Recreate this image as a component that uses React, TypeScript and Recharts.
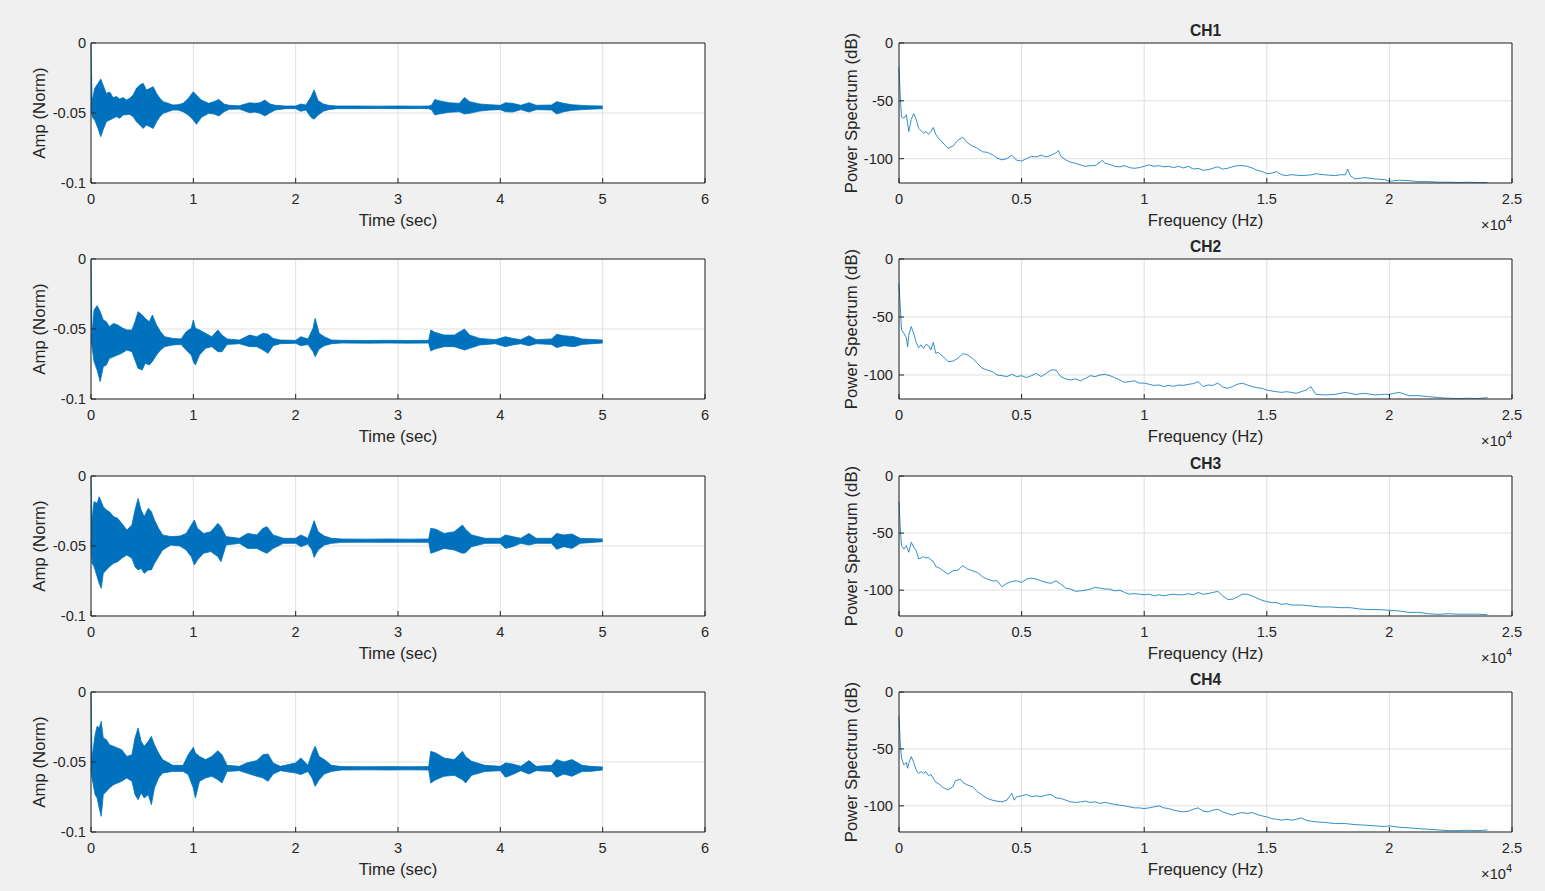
import React from 'react';
import { ComposedChart, LineChart, Line, Area, XAxis, YAxis, CartesianGrid, Label } from 'recharts';

// ---- waveform envelopes: time (s), lower / upper amplitude (normalized) ----
const ch1Time = [
  0, 0.01, 0.02, 0.036, 0.069, 0.095, 0.118, 0.150, 0.183, 0.216,
  0.248, 0.281, 0.314, 0.346, 0.379, 0.412, 0.444, 0.477, 0.510, 0.542,
  0.575, 0.608, 0.641, 0.673, 0.706, 0.755, 0.80, 0.85, 0.90, 0.95,
  1.00, 1.03, 1.08, 1.15, 1.20, 1.25, 1.30, 1.35, 1.45, 1.55,
  1.60, 1.65, 1.70, 1.75, 1.80, 1.90, 2.00, 2.05, 2.10, 2.15,
  2.18, 2.22, 2.27, 2.32, 2.40, 2.60, 2.80, 3.00, 3.20, 3.30,
  3.33, 3.36, 3.40, 3.50, 3.60, 3.65, 3.70, 3.80, 3.90, 4.00,
  4.05, 4.12, 4.20, 4.28, 4.35, 4.50, 4.55, 4.62, 4.70, 4.85,
  5.00,
];
const ch1Hi = [
  0, -0.0400, -0.0384, -0.0324, -0.0288, -0.0257, -0.0300, -0.0360, -0.0350, -0.0390,
  -0.0383, -0.0400, -0.0390, -0.0407, -0.0395, -0.0371, -0.0324, -0.0300, -0.0288, -0.0336,
  -0.0324, -0.0312, -0.0360, -0.0395, -0.0419, -0.0431, -0.0443, -0.0441, -0.0431, -0.0396,
  -0.0348, -0.0372, -0.0408, -0.0431, -0.0419, -0.0403, -0.0436, -0.0445, -0.0448, -0.0427,
  -0.0431, -0.0427, -0.0408, -0.0436, -0.0445, -0.0450, -0.0450, -0.0436, -0.0443, -0.0384,
  -0.0336, -0.0412, -0.0436, -0.0445, -0.0450, -0.0450, -0.0451, -0.0450, -0.0451, -0.0450,
  -0.0443, -0.0403, -0.0412, -0.0427, -0.0431, -0.0389, -0.0419, -0.0436, -0.0441, -0.0445,
  -0.0427, -0.0431, -0.0445, -0.0427, -0.0445, -0.0443, -0.0419, -0.0431, -0.0441, -0.0448,
  -0.0450,
];
const ch1Lo = [
  -0.0470, -0.0520, -0.0538, -0.0550, -0.0610, -0.0669, -0.0621, -0.0562, -0.0550, -0.0538,
  -0.0526, -0.0538, -0.0514, -0.0512, -0.0510, -0.0526, -0.0562, -0.0586, -0.0610, -0.0586,
  -0.0598, -0.0610, -0.0562, -0.0526, -0.0502, -0.0490, -0.0479, -0.0479, -0.0491, -0.0514,
  -0.0550, -0.0581, -0.0531, -0.0502, -0.0507, -0.0521, -0.0491, -0.0474, -0.0472, -0.0498,
  -0.0493, -0.0502, -0.0521, -0.0498, -0.0479, -0.0469, -0.0469, -0.0488, -0.0479, -0.0531,
  -0.0545, -0.0514, -0.0488, -0.0476, -0.0469, -0.0469, -0.0468, -0.0469, -0.0468, -0.0469,
  -0.0479, -0.0514, -0.0507, -0.0495, -0.0491, -0.0507, -0.0502, -0.0486, -0.0479, -0.0476,
  -0.0491, -0.0493, -0.0476, -0.0493, -0.0476, -0.0479, -0.0507, -0.0491, -0.0481, -0.0474,
  -0.0469,
];

const ch2Time = [
  0, 0.01, 0.03, 0.06, 0.09, 0.12, 0.15, 0.18, 0.22, 0.26,
  0.30, 0.35, 0.40, 0.43, 0.46, 0.50, 0.53, 0.57, 0.60, 0.64,
  0.68, 0.72, 0.80, 0.88, 0.93, 0.98, 1.00, 1.02, 1.06, 1.12,
  1.18, 1.24, 1.28, 1.33, 1.45, 1.55, 1.62, 1.68, 1.73, 1.78,
  1.85, 2.00, 2.05, 2.12, 2.17, 2.19, 2.23, 2.28, 2.35, 2.45,
  2.70, 2.90, 3.10, 3.30, 3.32, 3.36, 3.45, 3.55, 3.65, 3.70,
  3.80, 3.95, 4.05, 4.12, 4.20, 4.28, 4.35, 4.50, 4.55, 4.62,
  4.72, 4.80, 5.00,
];
const ch2Hi = [
  0, -0.0543, -0.0364, -0.0333, -0.0376, -0.0436, -0.0448, -0.0483, -0.0460, -0.0471,
  -0.0490, -0.0507, -0.0507, -0.0448, -0.0376, -0.0400, -0.0424, -0.0448, -0.0400, -0.0471,
  -0.0519, -0.0555, -0.0567, -0.0571, -0.0519, -0.0495, -0.0436, -0.0495, -0.0507, -0.0531,
  -0.0555, -0.0507, -0.0543, -0.0571, -0.0579, -0.0543, -0.0555, -0.0531, -0.0538, -0.0567,
  -0.0579, -0.0581, -0.0555, -0.0571, -0.0495, -0.0424, -0.0531, -0.0555, -0.0579, -0.0581,
  -0.0582, -0.0581, -0.0582, -0.0581, -0.0507, -0.0524, -0.0543, -0.0543, -0.0500, -0.0543,
  -0.0567, -0.0576, -0.0555, -0.0567, -0.0576, -0.0548, -0.0576, -0.0571, -0.0538, -0.0548,
  -0.0555, -0.0571, -0.0579,
];
const ch2Lo = [
  -0.0590, -0.0626, -0.0733, -0.0793, -0.0876, -0.0769, -0.0757, -0.0710, -0.0698, -0.0686,
  -0.0674, -0.0650, -0.0662, -0.0721, -0.0781, -0.0793, -0.0745, -0.0757, -0.0733, -0.0686,
  -0.0650, -0.0626, -0.0614, -0.0610, -0.0650, -0.0686, -0.0733, -0.0757, -0.0686, -0.0638,
  -0.0626, -0.0662, -0.0662, -0.0610, -0.0605, -0.0626, -0.0626, -0.0650, -0.0674, -0.0619,
  -0.0605, -0.0602, -0.0619, -0.0610, -0.0662, -0.0698, -0.0643, -0.0619, -0.0605, -0.0600,
  -0.0601, -0.0600, -0.0601, -0.0600, -0.0657, -0.0643, -0.0626, -0.0626, -0.0650, -0.0638,
  -0.0614, -0.0605, -0.0626, -0.0614, -0.0605, -0.0619, -0.0605, -0.0610, -0.0633, -0.0619,
  -0.0626, -0.0610, -0.0600,
];

const ch3Time = [
  0, 0.01, 0.03, 0.06, 0.08, 0.10, 0.12, 0.15, 0.18, 0.22,
  0.26, 0.30, 0.35, 0.40, 0.43, 0.46, 0.49, 0.52, 0.56, 0.59,
  0.62, 0.66, 0.70, 0.78, 0.87, 0.93, 0.98, 1.01, 1.04, 1.10,
  1.17, 1.24, 1.27, 1.32, 1.45, 1.53, 1.62, 1.68, 1.72, 1.78,
  1.88, 2.00, 2.05, 2.12, 2.16, 2.18, 2.22, 2.28, 2.35, 2.45,
  2.70, 2.90, 3.10, 3.30, 3.32, 3.37, 3.45, 3.55, 3.63, 3.66,
  3.72, 3.85, 4.00, 4.05, 4.12, 4.20, 4.28, 4.35, 4.50, 4.55,
  4.62, 4.70, 4.78, 5.00,
];
const ch3Hi = [
  0, -0.0314, -0.0183, -0.0195, -0.0148, -0.0183, -0.0219, -0.0243, -0.0255, -0.0290,
  -0.0302, -0.0338, -0.0386, -0.0350, -0.0243, -0.0160, -0.0243, -0.0290, -0.0231, -0.0255,
  -0.0314, -0.0374, -0.0421, -0.0433, -0.0429, -0.0410, -0.0350, -0.0314, -0.0374, -0.0410,
  -0.0398, -0.0338, -0.0362, -0.0433, -0.0445, -0.0410, -0.0421, -0.0374, -0.0362, -0.0421,
  -0.0445, -0.0445, -0.0421, -0.0445, -0.0362, -0.0319, -0.0398, -0.0429, -0.0445, -0.0450,
  -0.0451, -0.0450, -0.0451, -0.0450, -0.0374, -0.0380, -0.0410, -0.0398, -0.0350, -0.0380,
  -0.0421, -0.0445, -0.0445, -0.0421, -0.0433, -0.0445, -0.0410, -0.0445, -0.0445, -0.0410,
  -0.0421, -0.0414, -0.0445, -0.0450,
];
const ch3Lo = [
  -0.0470, -0.0624, -0.0648, -0.0719, -0.0767, -0.0802, -0.0695, -0.0671, -0.0648, -0.0624,
  -0.0612, -0.0588, -0.0564, -0.0588, -0.0648, -0.0671, -0.0660, -0.0695, -0.0671, -0.0671,
  -0.0624, -0.0576, -0.0529, -0.0493, -0.0500, -0.0529, -0.0576, -0.0636, -0.0600, -0.0552,
  -0.0540, -0.0576, -0.0612, -0.0493, -0.0481, -0.0517, -0.0517, -0.0540, -0.0552, -0.0517,
  -0.0481, -0.0481, -0.0505, -0.0486, -0.0529, -0.0581, -0.0529, -0.0493, -0.0481, -0.0474,
  -0.0473, -0.0474, -0.0473, -0.0474, -0.0552, -0.0540, -0.0517, -0.0529, -0.0552, -0.0548,
  -0.0505, -0.0481, -0.0481, -0.0517, -0.0505, -0.0481, -0.0493, -0.0481, -0.0481, -0.0524,
  -0.0505, -0.0517, -0.0481, -0.0469,
];

const ch4Time = [
  0, 0.01, 0.04, 0.06, 0.08, 0.10, 0.12, 0.15, 0.18, 0.22,
  0.26, 0.30, 0.35, 0.40, 0.43, 0.46, 0.49, 0.52, 0.56, 0.59,
  0.62, 0.66, 0.70, 0.80, 0.90, 0.95, 1.00, 1.02, 1.06, 1.12,
  1.18, 1.24, 1.28, 1.33, 1.45, 1.52, 1.62, 1.68, 1.73, 1.78,
  1.85, 2.00, 2.05, 2.12, 2.16, 2.19, 2.23, 2.28, 2.35, 2.45,
  2.70, 2.90, 3.10, 3.30, 3.32, 3.37, 3.45, 3.55, 3.63, 3.66,
  3.72, 3.85, 4.00, 4.05, 4.12, 4.20, 4.28, 4.35, 4.50, 4.55,
  4.62, 4.70, 4.80, 4.88, 5.00,
];
const ch4Hi = [
  0, -0.0471, -0.0305, -0.0245, -0.0257, -0.0210, -0.0329, -0.0340, -0.0376, -0.0388,
  -0.0400, -0.0412, -0.0460, -0.0448, -0.0329, -0.0257, -0.0352, -0.0388, -0.0352, -0.0317,
  -0.0376, -0.0436, -0.0483, -0.0524, -0.0524, -0.0448, -0.0395, -0.0436, -0.0460, -0.0483,
  -0.0460, -0.0419, -0.0448, -0.0524, -0.0531, -0.0507, -0.0490, -0.0448, -0.0443, -0.0507,
  -0.0531, -0.0507, -0.0471, -0.0524, -0.0436, -0.0388, -0.0460, -0.0483, -0.0524, -0.0533,
  -0.0534, -0.0533, -0.0534, -0.0533, -0.0424, -0.0436, -0.0471, -0.0483, -0.0424, -0.0460,
  -0.0495, -0.0524, -0.0531, -0.0507, -0.0514, -0.0531, -0.0490, -0.0531, -0.0524, -0.0483,
  -0.0500, -0.0483, -0.0524, -0.0531, -0.0536,
];
const ch4Lo = [
  -0.0550, -0.0614, -0.0733, -0.0757, -0.0829, -0.0888, -0.0733, -0.0710, -0.0686, -0.0662,
  -0.0650, -0.0638, -0.0614, -0.0638, -0.0733, -0.0769, -0.0721, -0.0757, -0.0733, -0.0805,
  -0.0686, -0.0614, -0.0579, -0.0567, -0.0567, -0.0590, -0.0686, -0.0757, -0.0638, -0.0614,
  -0.0602, -0.0626, -0.0650, -0.0567, -0.0562, -0.0579, -0.0602, -0.0614, -0.0638, -0.0586,
  -0.0562, -0.0579, -0.0590, -0.0567, -0.0614, -0.0674, -0.0626, -0.0586, -0.0567, -0.0557,
  -0.0556, -0.0557, -0.0556, -0.0557, -0.0650, -0.0626, -0.0602, -0.0595, -0.0626, -0.0650,
  -0.0595, -0.0567, -0.0562, -0.0609, -0.0590, -0.0562, -0.0586, -0.0562, -0.0567, -0.0609,
  -0.0586, -0.0602, -0.0567, -0.0567, -0.0557,
];

// ---- power spectra: frequency (Hz), power (dB) ----
const ch1Freq = [
  0, 50, 100, 200, 300, 400, 500, 600, 700, 800,
  1000, 1100, 1200, 1300, 1400, 1500, 1600, 1800, 2000, 2200,
  2400, 2600, 2800, 3000, 3200, 3400, 3600, 3800, 4000, 4200,
  4400, 4600, 4800, 5000, 5200, 5400, 5600, 5800, 6000, 6200,
  6400, 6500, 6600, 6800, 7000, 7200, 7400, 7600, 7800, 8000,
  8200, 8300, 8400, 8600, 8800, 9000, 9200, 9400, 9600, 9800,
  10000, 10200, 10400, 10600, 10800, 11000, 11200, 11400, 11600, 11800,
  12000, 12200, 12400, 12600, 12800, 13000, 13200, 13400, 13600, 13800,
  14000, 14200, 14400, 14600, 14800, 15000, 15200, 15400, 15600, 15800,
  16000, 16400, 16800, 17000, 17400, 17800, 18000, 18200, 18300, 18400,
  18600, 19000, 19400, 19800, 20000, 20400, 20800, 21200, 21600, 22000,
  22400, 22800, 23200, 23600, 24000,
];
const ch1Pow = [
  -21, -45, -64, -65, -62, -76.5, -66, -61, -66, -73.6,
  -78, -76.5, -79, -76.5, -73, -79, -82, -86.5, -91, -89,
  -84, -81.5, -86.5, -89, -91, -94, -94.5, -96.5, -99.4, -101,
  -100, -97, -101.4, -102, -100, -98, -98.5, -97, -98.5, -97,
  -95, -93, -98, -101, -103, -104, -105.4, -106.6, -106, -106,
  -103, -101.4, -104, -105, -106.6, -107, -106, -107.7, -108.3, -107.7,
  -106.6, -105.4, -106.6, -106, -107, -106.6, -107.7, -106.6, -108, -106.6,
  -109, -108.3, -110, -109.5, -108.3, -107, -109, -108.3, -107, -106,
  -106, -106.6, -108, -110, -111, -113, -112.5, -111.2, -113.8, -114.6,
  -113.8, -114.6, -114, -113, -114, -114.6, -113.8, -114, -109, -114.6,
  -117.5, -116.3, -117.5, -118, -119.5, -118.6, -119, -119.8, -119.8, -120.3,
  -120.3, -120.6, -120.3, -120.6, -120.6,
];

const ch2Freq = [
  0, 50, 100, 200, 300, 350, 400, 500, 600, 700,
  800, 900, 1000, 1100, 1200, 1300, 1400, 1500, 1600, 1800,
  2000, 2200, 2400, 2600, 2800, 3000, 3200, 3400, 3600, 3800,
  4000, 4200, 4400, 4600, 4800, 5000, 5200, 5400, 5600, 5800,
  6000, 6200, 6400, 6600, 6800, 7000, 7200, 7400, 7600, 7800,
  8000, 8200, 8400, 8600, 8800, 9000, 9200, 9400, 9600, 9800,
  10000, 10200, 10400, 10600, 10800, 11000, 11200, 11400, 11600, 11800,
  12000, 12200, 12400, 12600, 12800, 13000, 13200, 13400, 13600, 13800,
  14000, 14200, 14400, 14600, 14800, 15000, 15200, 15400, 15600, 15800,
  16000, 16200, 16400, 16600, 16800, 17000, 17400, 17800, 18200, 18600,
  19000, 19400, 19800, 20000, 20400, 20800, 21200, 21600, 22000, 22400,
  22800, 23200, 23600, 24000,
];
const ch2Pow = [
  -21, -40, -61, -64, -68, -75.6, -65.5, -58.3, -64, -72,
  -76.4, -74, -77, -73.6, -74.7, -78.4, -72, -81.3, -80.5, -84.2,
  -88.5, -88, -85.6, -81.6, -82.8, -85.6, -90, -94.3, -95.7, -97,
  -100, -100.6, -101.4, -99.4, -101.4, -100.6, -102.3, -100.6, -98.6, -101.4,
  -98.6, -95.7, -95.7, -101.4, -103.4, -104.3, -103.4, -105, -103, -100.6,
  -101.4, -100, -99.4, -100.6, -102.3, -104.3, -106.3, -105.7, -105, -107,
  -107, -108, -109, -108.6, -110, -109, -109.8, -108.6, -109, -108,
  -107.5, -105.7, -110, -108.6, -109, -107, -110.3, -111.5, -110, -108,
  -107, -108.6, -110, -111, -111.5, -113, -113.8, -114.4, -115, -114.4,
  -115, -115.8, -114.4, -113, -110, -116.7, -117.2, -116.7, -115, -116.7,
  -115.8, -117.2, -116.7, -116.7, -115, -117.8, -117.8, -118.7, -119.5, -120,
  -120.4, -120, -120.4, -119.5,
];

const ch3Freq = [
  0, 50, 100, 200, 300, 400, 500, 600, 700, 800,
  900, 1000, 1100, 1200, 1300, 1400, 1500, 1600, 1800, 2000,
  2200, 2400, 2600, 2800, 3000, 3200, 3400, 3600, 3800, 4000,
  4200, 4400, 4600, 4800, 5000, 5200, 5400, 5600, 5800, 6000,
  6200, 6400, 6600, 6800, 7000, 7200, 7400, 7600, 7800, 8000,
  8200, 8400, 8600, 8800, 9000, 9200, 9400, 9600, 9800, 10000,
  10200, 10400, 10600, 10800, 11000, 11200, 11400, 11600, 11800, 12000,
  12200, 12400, 12600, 12800, 13000, 13200, 13400, 13600, 13800, 14000,
  14200, 14400, 14600, 14800, 15000, 15200, 15400, 15600, 15800, 16000,
  16400, 16800, 17200, 17600, 18000, 18400, 18800, 19200, 19600, 20000,
  20400, 20800, 21200, 21600, 22000, 22400, 22800, 23200, 23600, 24000,
];
const ch3Pow = [
  -22.6, -45, -61, -64, -61, -66.8, -58, -62.4, -65.3, -72.6,
  -71.8, -70.6, -71.8, -71.2, -73.5, -74.7, -79.4, -80, -83, -86,
  -83, -82.4, -78.5, -81.5, -83, -84.4, -88.2, -90.3, -91.8, -91.8,
  -97, -94, -92.4, -91.8, -93.2, -90.3, -89.4, -90.3, -91.8, -93.2,
  -94, -91.8, -94.7, -98.2, -99, -101, -100.6, -100, -99, -97.6,
  -98.2, -99, -99, -100.6, -100, -102, -103.5, -103, -103.5, -104,
  -103.5, -105, -104, -105, -104, -103.5, -104, -104, -103, -104,
  -102, -103.5, -103, -102, -101, -105, -108, -108, -106, -103.5,
  -103.5, -105, -107, -108.8, -110, -110.9, -110.9, -112.4, -111.8, -113,
  -113, -113.8, -114.7, -114.7, -115.3, -115.3, -116.5, -117, -117, -117.6,
  -118.2, -119.4, -119.4, -120.6, -121.2, -120.6, -121, -121, -121, -121.5,
];

const ch4Freq = [
  0, 50, 100, 200, 300, 350, 400, 500, 600, 700,
  800, 900, 1000, 1100, 1200, 1300, 1400, 1500, 1600, 1800,
  2000, 2200, 2300, 2500, 2600, 2800, 3000, 3200, 3400, 3600,
  3800, 4000, 4200, 4400, 4600, 4700, 4800, 5000, 5200, 5400,
  5600, 5800, 6000, 6200, 6400, 6600, 6800, 7000, 7200, 7400,
  7600, 7800, 8000, 8200, 8400, 8600, 8800, 9000, 9200, 9400,
  9600, 9800, 10000, 10200, 10400, 10600, 10800, 11000, 11200, 11400,
  11600, 11800, 12000, 12200, 12400, 12600, 12800, 13000, 13200, 13400,
  13600, 13800, 14000, 14200, 14400, 14600, 14800, 15000, 15200, 15400,
  15600, 15800, 16000, 16200, 16400, 16600, 16800, 17000, 17400, 17800,
  18200, 18600, 19000, 19400, 19800, 20000, 20400, 20800, 21200, 21600,
  22000, 22400, 22800, 23200, 23600, 24000,
];
const ch4Pow = [
  -21.5, -43.5, -58, -64, -61.8, -67, -62.6, -56.8, -61.8, -68.5,
  -71.5, -70, -71.5, -70, -73.5, -72.4, -75.9, -79.4, -80.3, -84,
  -86, -83.2, -78, -76.5, -79.4, -81.8, -83.2, -87.6, -90.6, -93.5,
  -95, -95.9, -96.5, -95, -89, -95, -92, -91.2, -90, -92,
  -91.2, -92, -90.6, -90, -93, -93.5, -95, -96.5, -97, -96.5,
  -95.9, -97, -96.5, -98, -97, -98, -98.8, -99.4, -100, -100.9,
  -101.8, -101.8, -102.4, -101.8, -100.9, -100, -101.8, -102.4, -103.8, -104.7,
  -105.3, -104.7, -103, -101.8, -104.7, -105.3, -103.8, -103, -105.3, -106.8,
  -108.2, -106.8, -105.9, -106.8, -105.9, -107.6, -108.8, -109.7, -111.2, -111.8,
  -112.6, -111.8, -112.6, -111.8, -110.6, -112.6, -113.5, -114, -114.7, -115.6,
  -115.6, -116.5, -117, -117.6, -118.2, -117.6, -118.8, -119.4, -120, -120.6,
  -121.2, -121.8, -121.8, -121.5, -121.8, -121.2,
];

// ---- axes ----
const timeTicks = [0, 1, 2, 3, 4, 5, 6];
const ampTicks = [-0.1, -0.05, 0];
const freqTicks = [0, 5000, 10000, 15000, 20000, 25000];
const powTicks = [-100, -50, 0];
const powFloor = [-121, -120.7, -122.6, -123];
const channelNames = ['CH1', 'CH2', 'CH3', 'CH4'];

const FONT = '"Liberation Sans", Arial, Helvetica, sans-serif';
const INK = '#262626';
const GRID = '#dfdfdf';
const BLUE = '#0072BD';
const ROW_TOPS = [43, 259, 476, 692];

const tickStyle = { fill: INK, fontSize: 14.6, fontFamily: FONT };
const labelStyle = { fill: INK, fontSize: 16.8, fontFamily: FONT };

const waves = [
  { time: ch1Time, lo: ch1Lo, hi: ch1Hi },
  { time: ch2Time, lo: ch2Lo, hi: ch2Hi },
  { time: ch3Time, lo: ch3Lo, hi: ch3Hi },
  { time: ch4Time, lo: ch4Lo, hi: ch4Hi },
];
const spectra = [
  { freq: ch1Freq, pow: ch1Pow },
  { freq: ch2Freq, pow: ch2Pow },
  { freq: ch3Freq, pow: ch3Pow },
  { freq: ch4Freq, pow: ch4Pow },
];

const ExpLabel = (props: any) => {
  const vb = props.viewBox;
  return (
    <text x={vb.x + vb.width} y={vb.y + 47} textAnchor="end" fill={INK} fontSize={14.6} fontFamily={FONT}>
      <tspan>×10</tspan>
      <tspan dy={-7} fontSize={11}>4</tspan>
    </text>
  );
};

function WavePanel({ time, lo, hi, top }: { time: number[]; lo: number[]; hi: number[]; top: number }) {
  const data = time.map((t, i) => ({ t, band: [lo[i], hi[i]] }));
  return (
    <div style={{ position: 'absolute', left: 0, top: top - 10 }}>
      <ComposedChart width={725} height={200} data={data} margin={{ top: 9, right: 19, bottom: 0, left: 0 }}>
        <CartesianGrid stroke={GRID} fill="#ffffff" />
        <XAxis dataKey="t" type="number" domain={[0, 6]} ticks={timeTicks} height={50}
          stroke={INK} tickSize={-5} tickMargin={16} tick={tickStyle}>
          <Label value="Time (sec)" position="insideBottom" offset={7} {...labelStyle} />
        </XAxis>
        <XAxis xAxisId="top" orientation="top" dataKey="t" type="number" domain={[0, 6]} ticks={timeTicks}
          height={1} stroke={INK} tickSize={-5} tick={false} />
        <YAxis domain={[-0.1, 0]} ticks={ampTicks} width={91} allowDataOverflow
          stroke={INK} tickSize={-5} tickMargin={10} tick={tickStyle}>
          <Label value="Amp (Norm)" angle={-90} position="insideLeft" offset={39}
            style={{ textAnchor: 'middle' }} {...labelStyle} />
        </YAxis>
        <YAxis yAxisId="right" orientation="right" domain={[-0.1, 0]} ticks={ampTicks} width={1}
          stroke={INK} tickSize={-5} tick={false} allowDataOverflow />
        <Area dataKey="band" type="linear" stroke={BLUE} strokeWidth={0.8} fill={BLUE} fillOpacity={1}
          dot={false} activeDot={false} isAnimationActive={false} />
      </ComposedChart>
    </div>
  );
}

function SpectrumPanel({ freq, pow, top, floor, name }: { freq: number[]; pow: number[]; top: number; floor: number; name: string }) {
  const data = freq.map((f, i) => ({ f, p: pow[i] }));
  return (
    <div style={{ position: 'absolute', left: 800, top: top - 26 }}>
      <LineChart width={733} height={216} data={data} margin={{ top: 25, right: 20, bottom: 0, left: 0 }}>
        <CartesianGrid stroke={GRID} fill="#ffffff" />
        <XAxis dataKey="f" type="number" domain={[0, 25000]} ticks={freqTicks} height={50}
          stroke={INK} tickSize={-5} tickMargin={16} tick={tickStyle}
          tickFormatter={(v: number) => String(v / 10000)}>
          <Label value="Frequency (Hz)" position="insideBottom" offset={7} {...labelStyle} />
          <Label content={ExpLabel} />
        </XAxis>
        <XAxis xAxisId="top" orientation="top" dataKey="f" type="number" domain={[0, 25000]} ticks={freqTicks}
          height={1} stroke={INK} tickSize={-5} tick={false}>
          <Label value={name} position="top" offset={6} {...labelStyle} fontSize={15.6} fontWeight="bold" />
        </XAxis>
        <YAxis domain={[floor, 0]} ticks={powTicks} width={99} allowDataOverflow
          stroke={INK} tickSize={-5} tickMargin={11} tick={tickStyle}>
          <Label value="Power Spectrum (dB)" angle={-90} position="insideLeft" offset={51}
            style={{ textAnchor: 'middle' }} {...labelStyle} />
        </YAxis>
        <YAxis yAxisId="right" orientation="right" domain={[floor, 0]} ticks={powTicks} width={1}
          stroke={INK} tickSize={-5} tick={false} allowDataOverflow />
        <Line dataKey="p" type="linear" stroke={BLUE} strokeWidth={0.8} dot={false} activeDot={false}
          isAnimationActive={false} />
      </LineChart>
    </div>
  );
}

export default function App() {
  return (
    <div style={{ position: 'absolute', left: 0, top: 0, width: 1545, height: 891, background: '#f0f0f0', fontFamily: FONT, overflow: 'hidden' }}>
      {waves.map((w, i) => (
        <WavePanel key={'w' + i} time={w.time} lo={w.lo} hi={w.hi} top={ROW_TOPS[i]} />
      ))}
      {spectra.map((s, i) => (
        <SpectrumPanel key={'s' + i} freq={s.freq} pow={s.pow} top={ROW_TOPS[i]} floor={powFloor[i]} name={channelNames[i]} />
      ))}
    </div>
  );
}
